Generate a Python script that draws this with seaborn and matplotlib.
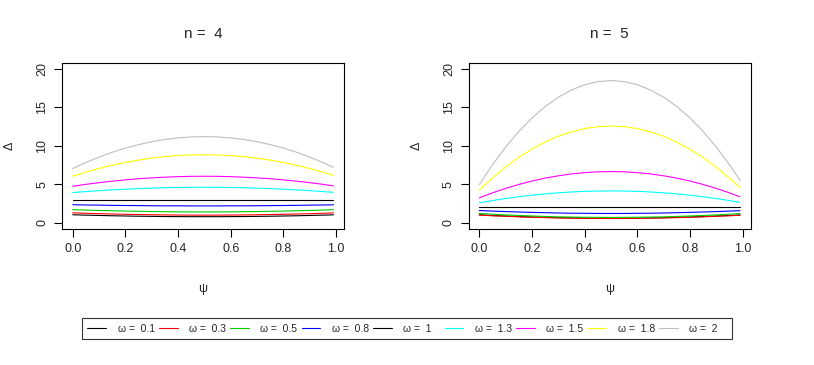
import numpy as np
import pandas as pd
import matplotlib
matplotlib.use("Agg")
import matplotlib.pyplot as plt
import seaborn as sns

# psi grid and curves
psi = [0.0, 0.05, 0.1, 0.15, 0.2, 0.25, 0.3, 0.35, 0.4, 0.45, 0.5,
       0.55, 0.6, 0.65, 0.7, 0.75, 0.8, 0.85, 0.9, 0.95, 0.99]
omegas = ["0.1", "0.3", "0.5", "0.8", "1", "1.3", "1.5", "1.8", "2"]
colors = ["black", "#FF0000", "#00CD00", "#0000FF", "black", "#00FFFF", "#FF00FF", "#FFFF00", "#BEBEBE"]

# n = 4
n4_w01 = [1.05, 1.00, 0.96, 0.92, 0.89, 0.86, 0.84, 0.82, 0.81, 0.80, 0.80, 0.80, 0.81, 0.82, 0.84, 0.86, 0.89, 0.92, 0.96, 1.00, 1.04]
n4_w03 = [1.30, 1.24, 1.19, 1.15, 1.11, 1.08, 1.05, 1.03, 1.01, 1.00, 1.00, 1.00, 1.01, 1.03, 1.05, 1.08, 1.11, 1.15, 1.19, 1.24, 1.29]
n4_w05 = [1.72, 1.66, 1.61, 1.57, 1.53, 1.50, 1.47, 1.45, 1.43, 1.42, 1.42, 1.42, 1.43, 1.45, 1.47, 1.50, 1.53, 1.57, 1.61, 1.66, 1.71]
n4_w08 = [2.35, 2.32, 2.30, 2.27, 2.25, 2.24, 2.22, 2.21, 2.21, 2.20, 2.20, 2.20, 2.21, 2.21, 2.22, 2.24, 2.25, 2.27, 2.30, 2.32, 2.34]
n4_w1 = [3.0, 3.0, 3.0, 3.0, 3.0, 3.0, 3.0, 3.0, 3.0, 3.0, 3.0, 3.0, 3.0, 3.0, 3.0, 3.0, 3.0, 3.0, 3.0, 3.0, 3.0]
n4_w13 = [3.93, 4.06, 4.18, 4.28, 4.37, 4.45, 4.51, 4.56, 4.59, 4.61, 4.62, 4.61, 4.59, 4.56, 4.51, 4.45, 4.37, 4.28, 4.18, 4.06, 3.96]
n4_w15 = [4.75, 5.00, 5.22, 5.41, 5.58, 5.73, 5.84, 5.93, 6.00, 6.04, 6.05, 6.04, 6.00, 5.93, 5.84, 5.73, 5.58, 5.41, 5.22, 5.00, 4.80]
n4_w18 = [6.05, 6.58, 7.06, 7.48, 7.84, 8.15, 8.40, 8.60, 8.74, 8.82, 8.85, 8.82, 8.74, 8.60, 8.40, 8.15, 7.84, 7.48, 7.06, 6.58, 6.16]
n4_w2 = [7.05, 7.84, 8.54, 9.17, 9.71, 10.16, 10.54, 10.83, 11.03, 11.16, 11.20, 11.16, 11.03, 10.83, 10.54, 10.16, 9.71, 9.17, 8.54, 7.84, 7.21]

# n = 5
n5_w01 = [1.05, 0.95, 0.89, 0.82, 0.76, 0.71, 0.67, 0.64, 0.62, 0.60, 0.60, 0.60, 0.62, 0.64, 0.67, 0.71, 0.76, 0.82, 0.89, 0.95, 1.03]
n5_w03 = [1.00, 0.92, 0.85, 0.78, 0.72, 0.68, 0.64, 0.61, 0.59, 0.57, 0.57, 0.57, 0.59, 0.61, 0.64, 0.68, 0.72, 0.78, 0.85, 0.92, 0.98]
n5_w05 = [1.22, 1.12, 1.03, 0.96, 0.89, 0.83, 0.78, 0.75, 0.72, 0.71, 0.70, 0.71, 0.72, 0.75, 0.78, 0.83, 0.89, 0.96, 1.03, 1.12, 1.20]
n5_w08 = [1.60, 1.53, 1.46, 1.41, 1.36, 1.32, 1.28, 1.25, 1.24, 1.22, 1.22, 1.22, 1.24, 1.25, 1.28, 1.32, 1.36, 1.41, 1.46, 1.53, 1.58]
n5_w1 = [2.0, 2.0, 2.0, 2.0, 2.0, 2.0, 2.0, 2.0, 2.0, 2.0, 2.0, 2.0, 2.0, 2.0, 2.0, 2.0, 2.0, 2.0, 2.0, 2.0, 2.0]
n5_w13 = [2.60, 2.89, 3.16, 3.39, 3.59, 3.76, 3.90, 4.01, 4.09, 4.13, 4.15, 4.13, 4.09, 4.01, 3.90, 3.76, 3.59, 3.39, 3.16, 2.89, 2.66]
n5_w15 = [3.24, 3.89, 4.47, 4.98, 5.43, 5.81, 6.11, 6.35, 6.52, 6.63, 6.66, 6.63, 6.52, 6.35, 6.11, 5.81, 5.43, 4.98, 4.47, 3.89, 3.38]
n5_w18 = [4.24, 5.82, 7.24, 8.49, 9.57, 10.49, 11.24, 11.82, 12.24, 12.49, 12.57, 12.49, 12.24, 11.82, 11.24, 10.49, 9.57, 8.49, 7.24, 5.82, 4.57]
n5_w2 = [4.97, 7.54, 9.83, 11.86, 13.62, 15.10, 16.32, 17.26, 17.94, 18.34, 18.48, 18.34, 17.94, 17.26, 16.32, 15.10, 13.62, 11.86, 9.83, 7.54, 5.50]

panels = {
    "4": [n4_w01, n4_w03, n4_w05, n4_w08, n4_w1, n4_w13, n4_w15, n4_w18, n4_w2],
    "5": [n5_w01, n5_w03, n5_w05, n5_w08, n5_w1, n5_w13, n5_w15, n5_w18, n5_w2],
}

sns.set_style("white")
plt.rcParams['font.family'] = ['Liberation Sans', 'DejaVu Sans']

fig = plt.figure(figsize=(8.14, 3.65), dpi=100)
ax_pos = [[0.0765, 0.3726, 0.346, 0.4556], [0.576, 0.3726, 0.346, 0.4556]]

for pos, (n, curves) in zip(ax_pos, panels.items()):
    ax = fig.add_axes(pos)
    for w, ys, c in zip(omegas, curves, colors):
        df = pd.DataFrame({"psi": psi, "delta": ys})
        # short labels padded so every legend column is the same width
        lab = f"ω =  {w}" + ("   " if len(w) == 1 else "")
        sns.lineplot(data=df, x="psi", y="delta", color=c, linewidth=0.8,
                     ax=ax, label=lab, legend=False)
    ax.set_xlim(-0.0396, 1.0296)
    ax.set_ylim(-0.8, 20.8)
    ax.set_xticks([0, 0.2, 0.4, 0.6, 0.8, 1.0])
    ax.set_yticks([0, 5, 10, 15, 20])
    ax.set_yticklabels(["0", "5", "10", "15", "20"], rotation=90, va="center")
    ax.tick_params(direction="out", length=6, width=0.8, color="black",
                   labelsize=9, pad=4, bottom=True, left=True)
    for s in ax.spines.values():
        s.set_color("black")
        s.set_linewidth(0.8)
    ax.set_title(f"n =  {n}", fontsize=11, pad=18)
    ax.set_xlabel("ψ", fontsize=9, labelpad=20)
    ax.set_ylabel("Δ", fontsize=9, labelpad=15)

handles, labels = ax.get_legend_handles_labels()
leg = fig.legend(handles, labels, loc="center", bbox_to_anchor=(0.5, 0.1), ncol=9,
                 fontsize=7.5, frameon=True, fancybox=False, handlelength=1.8,
                 handletextpad=1.1, columnspacing=0.4, borderpad=0.55)
leg.get_frame().set_edgecolor("black")
leg.get_frame().set_linewidth(0.8)

fig.savefig("out.png", dpi=100)
